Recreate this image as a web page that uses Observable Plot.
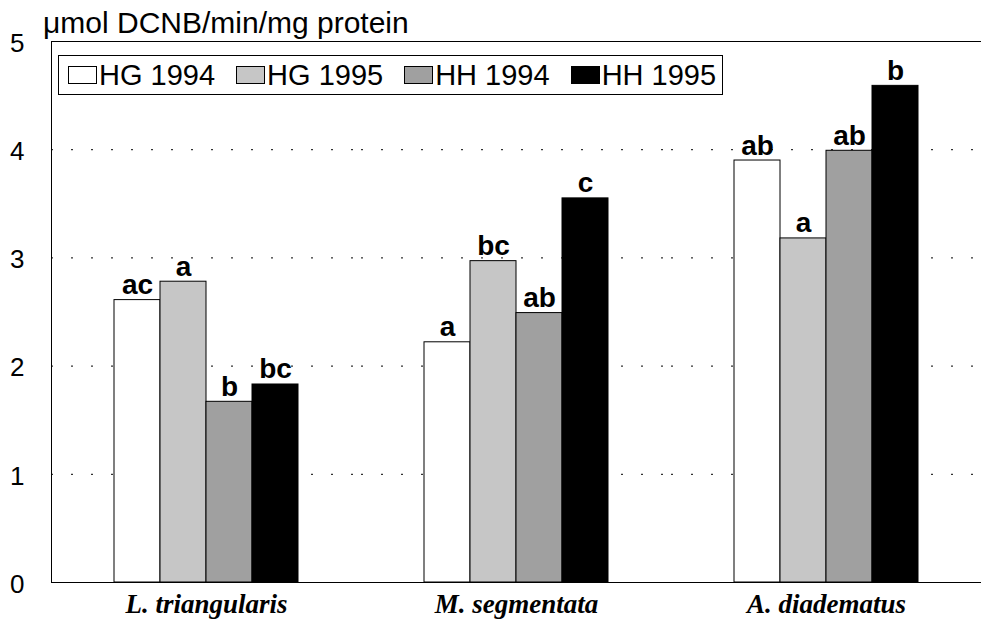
<!DOCTYPE html>
<html><head><meta charset="utf-8">
<script src="https://cdn.jsdelivr.net/npm/d3@7"></script>
<script src="https://cdn.jsdelivr.net/npm/@observablehq/plot@0.6"></script>
<style>
body{margin:0;background:#fff;}
#wrap{position:relative;width:981px;height:625px;font-family:"Liberation Sans",Arial,sans-serif;overflow:hidden;}
#title{position:absolute;left:43px;top:8px;font-size:30px;line-height:1;white-space:nowrap;}
#legend{position:absolute;left:58px;top:55px;width:665px;height:40px;box-sizing:border-box;border:1px solid #000;background:#fff;display:flex;align-items:center;padding-left:9px;gap:21px;font-size:29px;line-height:1;white-space:nowrap;}
.item{display:flex;align-items:center;}
.sw{width:29px;height:18px;border:1px solid #000;box-sizing:border-box;margin-right:2px;}
#chart{position:absolute;left:0;top:0;}
</style></head>
<body><div id="wrap"><div id="chart"></div><div id="title">μmol DCNB/min/mg protein</div><div id="legend"></div></div>
<script>
const species = ["L. triangularis", "M. segmentata", "A. diadematus"];
const series = ["HG 1994", "HG 1995", "HH 1994", "HH 1995"];
const colors = ["#ffffff", "#c6c6c6", "#a0a0a0", "#000000"];
const hg1994 = [2.61, 2.22, 3.90];
const hg1995 = [2.78, 2.97, 3.18];
const hh1994 = [1.67, 2.49, 3.99];
const hh1995 = [1.83, 3.55, 4.59];
const lettersHG1994 = ["ac", "a", "ab"];
const lettersHG1995 = ["a", "bc", "a"];
const lettersHH1994 = ["b", "ab", "ab"];
const lettersHH1995 = ["bc", "c", "b"];
const yTicks = [0, 1, 2, 3, 4, 5];
const yGrid = [1, 2, 3, 4];

const valueSets = [hg1994, hg1995, hh1994, hh1995];
const letterSets = [lettersHG1994, lettersHG1995, lettersHH1994, lettersHH1995];
const data = [];
species.forEach((sp, i) => series.forEach((s, j) => data.push({species: sp, series: s, value: valueSets[j][i], letter: letterSets[j][i]})));

const plot = Plot.plot({
  width: 981, height: 625,
  marginTop: 41, marginBottom: 43, marginLeft: 51, marginRight: 0,
  style: {fontFamily: "Liberation Sans, Arial, sans-serif", fontSize: "26px", color: "#000", background: "transparent", overflow: "visible"},
  fx: {domain: species, padding: 0, label: null},
  x: {domain: series, padding: 0, insetLeft: 62, insetRight: 62, axis: null},
  y: {domain: [0, 5], label: null, axis: null},
  color: {type: "ordinal", domain: series, range: colors},
  marks: [
    Plot.ruleY(yGrid, {stroke: "#000", strokeWidth: 1, strokeDasharray: "2,18"}),
    Plot.barY(data, {fx: "species", x: "series", y: "value", fill: "series", stroke: "#000", strokeWidth: 1}),
    Plot.text(data, {fx: "species", x: "series", y: "value", text: "letter", lineAnchor: "bottom", dy: -6, fontWeight: "bold", fontSize: 28, fill: "#000"}),
    Plot.ruleY([0, 5], {stroke: "#000", strokeWidth: 1}),
    Plot.frame({anchor: "left", facetAnchor: "left", stroke: "#000", strokeWidth: 1}),
    Plot.axisY({ticks: yTicks, tickFormat: d => String(d), tickSize: 0, tickPadding: 27, label: null, fontSize: 26, dy: 2}),
    Plot.axisFx({anchor: "bottom", tickSize: 0, tickPadding: 11, label: null, fontSize: 27, fontFamily: "Liberation Serif, Times New Roman, serif", fontWeight: "bold", fontStyle: "italic"})
  ]
});
document.getElementById("chart").appendChild(plot);

const legend = document.getElementById("legend");
series.forEach((s, j) => {
  const it = document.createElement("div");
  it.className = "item";
  const sw = document.createElement("div");
  sw.className = "sw";
  sw.style.background = colors[j];
  const t = document.createElement("span");
  t.textContent = s;
  it.appendChild(sw); it.appendChild(t);
  legend.appendChild(it);
});
</script>
</body></html>
